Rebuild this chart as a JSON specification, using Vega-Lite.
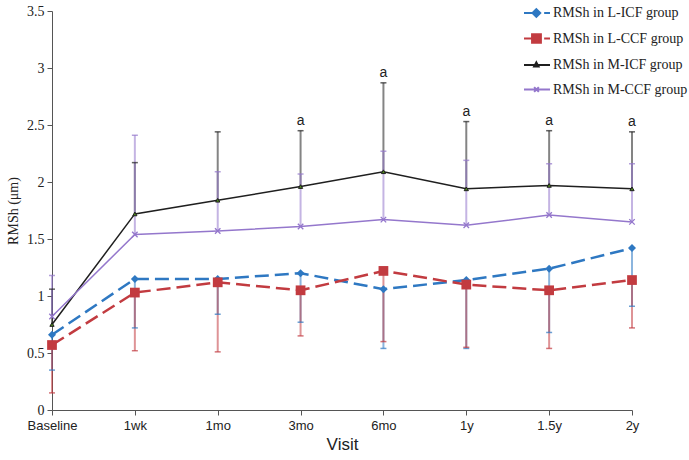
{
  "$schema": "https://vega.github.io/schema/vega-lite/v6.json",
  "width": 580,
  "height": 399,
  "autosize": "none",
  "padding": {"left": 52, "top": 11, "right": 57, "bottom": 50},
  "background": "white",
  "config": {"view": {"stroke": null}},
  "datasets": {
    "main": [
      {"visit": "Baseline", "group": "RMSh in L-ICF group", "mean": 0.66, "err": 0.35},
      {"visit": "1wk", "group": "RMSh in L-ICF group", "mean": 1.15, "err": 0.72},
      {"visit": "1mo", "group": "RMSh in L-ICF group", "mean": 1.15, "err": 0.84},
      {"visit": "3mo", "group": "RMSh in L-ICF group", "mean": 1.20, "err": 0.77},
      {"visit": "6mo", "group": "RMSh in L-ICF group", "mean": 1.06, "err": 0.54},
      {"visit": "1y", "group": "RMSh in L-ICF group", "mean": 1.14, "err": 0.54},
      {"visit": "1.5y", "group": "RMSh in L-ICF group", "mean": 1.24, "err": 0.68},
      {"visit": "2y", "group": "RMSh in L-ICF group", "mean": 1.42, "err": 0.91},
      {"visit": "Baseline", "group": "RMSh in L-CCF group", "mean": 0.57, "err": 0.15},
      {"visit": "1wk", "group": "RMSh in L-CCF group", "mean": 1.03, "err": 0.52},
      {"visit": "1mo", "group": "RMSh in L-CCF group", "mean": 1.12, "err": 0.51},
      {"visit": "3mo", "group": "RMSh in L-CCF group", "mean": 1.05, "err": 0.65},
      {"visit": "6mo", "group": "RMSh in L-CCF group", "mean": 1.22, "err": 0.60},
      {"visit": "1y", "group": "RMSh in L-CCF group", "mean": 1.10, "err": 0.55},
      {"visit": "1.5y", "group": "RMSh in L-CCF group", "mean": 1.05, "err": 0.54},
      {"visit": "2y", "group": "RMSh in L-CCF group", "mean": 1.14, "err": 0.72},
      {"visit": "Baseline", "group": "RMSh in M-ICF group", "mean": 0.75, "err": 1.06},
      {"visit": "1wk", "group": "RMSh in M-ICF group", "mean": 1.72, "err": 2.17},
      {"visit": "1mo", "group": "RMSh in M-ICF group", "mean": 1.84, "err": 2.44},
      {"visit": "3mo", "group": "RMSh in M-ICF group", "mean": 1.96, "err": 2.45},
      {"visit": "6mo", "group": "RMSh in M-ICF group", "mean": 2.09, "err": 2.87},
      {"visit": "1y", "group": "RMSh in M-ICF group", "mean": 1.94, "err": 2.53},
      {"visit": "1.5y", "group": "RMSh in M-ICF group", "mean": 1.97, "err": 2.45},
      {"visit": "2y", "group": "RMSh in M-ICF group", "mean": 1.94, "err": 2.44},
      {"visit": "Baseline", "group": "RMSh in M-CCF group", "mean": 0.82, "err": 1.18},
      {"visit": "1wk", "group": "RMSh in M-CCF group", "mean": 1.54, "err": 2.41},
      {"visit": "1mo", "group": "RMSh in M-CCF group", "mean": 1.57, "err": 2.09},
      {"visit": "3mo", "group": "RMSh in M-CCF group", "mean": 1.61, "err": 2.07},
      {"visit": "6mo", "group": "RMSh in M-CCF group", "mean": 1.67, "err": 2.27},
      {"visit": "1y", "group": "RMSh in M-CCF group", "mean": 1.62, "err": 2.19},
      {"visit": "1.5y", "group": "RMSh in M-CCF group", "mean": 1.71, "err": 2.16},
      {"visit": "2y", "group": "RMSh in M-CCF group", "mean": 1.65, "err": 2.16}
    ],
    "ann": [
      {"visit": "3mo", "top": 2.45, "label": "a"},
      {"visit": "6mo", "top": 2.87, "label": "a"},
      {"visit": "1y", "top": 2.53, "label": "a"},
      {"visit": "1.5y", "top": 2.45, "label": "a"},
      {"visit": "2y", "top": 2.44, "label": "a"}
    ]
  },
  "encoding": {
    "x": {
      "field": "visit",
      "type": "ordinal",
      "sort": ["Baseline", "1wk", "1mo", "3mo", "6mo", "1y", "1.5y", "2y"],
      "scale": {"type": "point", "padding": 0},
      "axis": {
        "title": "Visit",
        "labelAngle": 0,
        "labelFont": "Liberation Sans",
        "labelFontSize": 13,
        "labelColor": "#222",
        "labelPadding": 4,
        "titleFont": "Liberation Sans",
        "titleFontSize": 17,
        "titleFontWeight": "normal",
        "titleColor": "#222",
        "titlePadding": 4,
        "domainColor": "#555",
        "tickColor": "#555",
        "tickSize": 5,
        "grid": false
      }
    }
  },
  "layer": [
    {
      "data": {"name": "main"},
      "mark": {"type": "rule", "strokeWidth": 2, "opacity": 0.55},
      "encoding": {
        "y": {"field": "mean", "type": "quantitative"},
        "y2": {"field": "err"},
        "color": {"field": "group", "type": "nominal"}
      }
    },
    {
      "data": {"name": "main"},
      "mark": {"type": "tick", "size": 6, "thickness": 1.5, "opacity": 0.7},
      "encoding": {
        "y": {"field": "err", "type": "quantitative"},
        "color": {"field": "group", "type": "nominal"}
      }
    },
    {
      "data": {"name": "main"},
      "transform": [{"filter": "datum.group === 'RMSh in L-ICF group' || datum.group === 'RMSh in L-CCF group'"}],
      "mark": {"type": "line", "strokeDash": [14, 6], "strokeWidth": 2.5},
      "encoding": {
        "y": {"field": "mean", "type": "quantitative"},
        "color": {"field": "group", "type": "nominal"}
      }
    },
    {
      "data": {"name": "main"},
      "transform": [{"filter": "datum.group === 'RMSh in M-ICF group' || datum.group === 'RMSh in M-CCF group'"}],
      "mark": {"type": "line", "strokeWidth": 1.5},
      "encoding": {
        "y": {
          "field": "mean",
          "type": "quantitative",
          "scale": {"domain": [0, 3.5], "nice": false, "zero": true},
          "axis": {
            "title": "RMSh (μm)",
            "values": [0, 0.5, 1, 1.5, 2, 2.5, 3, 3.5],
            "format": "~g",
            "labelFont": "Liberation Serif",
            "labelFontSize": 14,
            "labelColor": "#222",
            "labelPadding": 3,
            "titleFont": "Liberation Serif",
            "titleFontSize": 14,
            "titleFontWeight": "normal",
            "titleColor": "#222",
            "titlePadding": 6,
            "domainColor": "#555",
            "tickColor": "#555",
            "tickSize": 5,
            "grid": false
          }
        },
        "color": {
          "field": "group",
          "type": "nominal",
          "scale": {
            "domain": ["RMSh in L-ICF group", "RMSh in L-CCF group", "RMSh in M-ICF group", "RMSh in M-CCF group"],
            "range": ["#2e78c2", "#c23b40", "#1f1f1f", "#9477cc"]
          },
          "legend": {
            "title": null,
            "orient": "none",
            "legendX": 471,
            "legendY": -12,
            "symbolSize": 676,
            "symbolType": "stroke",
            "rowPadding": 3.5,
            "labelOffset": 2,
            "labelFont": "Liberation Serif",
            "labelFontSize": 14,
            "labelColor": "#222",
            "labelLimit": 200,
            "encode": {
              "symbols": {
                "update": {
                  "shape": {"signal": "datum.value === 'RMSh in L-ICF group' ? 'M-1,0L-0.2,0M0.55,0L1,0M-0.05,-0.3L0.25,0L-0.05,0.3L-0.35,0Z' : datum.value === 'RMSh in L-CCF group' ? 'M-1,0L-0.2,0M0.55,0L1,0M-0.38,-0.33L0.3,-0.33L0.3,0.33L-0.38,0.33Z' : datum.value === 'RMSh in M-ICF group' ? 'M-1,0L1,0M-0.05,-0.2L0.12,0.12L-0.22,0.12Z' : 'M-1,0L1,0M-0.22,-0.18L0.14,0.18M-0.22,0.18L0.14,-0.18'"},
                  "stroke": {"scale": "color", "field": "value"},
                  "fill": {"signal": "datum.value === 'RMSh in M-ICF group' ? '#4d8a1c' : datum.value === 'RMSh in M-CCF group' ? 'transparent' : scale('color', datum.value)"},
                  "strokeWidth": {"value": 2},
                  "strokeDash": {"value": []},
                  "size": {"value": 676},
                  "opacity": {"value": 1}
                }
              }
            }
          }
        }
      }
    },
    {
      "data": {"name": "main"},
      "transform": [{"filter": "datum.group === 'RMSh in L-ICF group'"}],
      "mark": {"type": "point", "shape": "diamond", "filled": true, "color": "#2e78c2", "size": 64, "opacity": 1},
      "encoding": {"y": {"field": "mean", "type": "quantitative"}}
    },
    {
      "data": {"name": "main"},
      "transform": [{"filter": "datum.group === 'RMSh in L-CCF group'"}],
      "mark": {"type": "point", "shape": "square", "filled": true, "color": "#c23b40", "size": 95, "opacity": 1},
      "encoding": {"y": {"field": "mean", "type": "quantitative"}}
    },
    {
      "data": {"name": "main"},
      "transform": [{"filter": "datum.group === 'RMSh in M-ICF group'"}],
      "mark": {"type": "point", "shape": "triangle-up", "filled": true, "fill": "#4d8a1c", "stroke": "#1f1f1f", "strokeWidth": 1, "size": 18, "opacity": 1},
      "encoding": {"y": {"field": "mean", "type": "quantitative"}}
    },
    {
      "data": {"name": "main"},
      "transform": [{"filter": "datum.group === 'RMSh in M-CCF group'"}],
      "mark": {"type": "point", "shape": "M-1,-1L1,1M-1,1L1,-1", "filled": false, "stroke": "#9477cc", "strokeWidth": 1.3, "size": 30, "opacity": 1},
      "encoding": {"y": {"field": "mean", "type": "quantitative"}}
    },
    {
      "data": {"name": "ann"},
      "mark": {"type": "text", "baseline": "bottom", "dy": -3, "font": "Liberation Sans", "fontSize": 14, "color": "#222"},
      "encoding": {
        "y": {"field": "top", "type": "quantitative"},
        "text": {"field": "label"}
      }
    }
  ]
}
